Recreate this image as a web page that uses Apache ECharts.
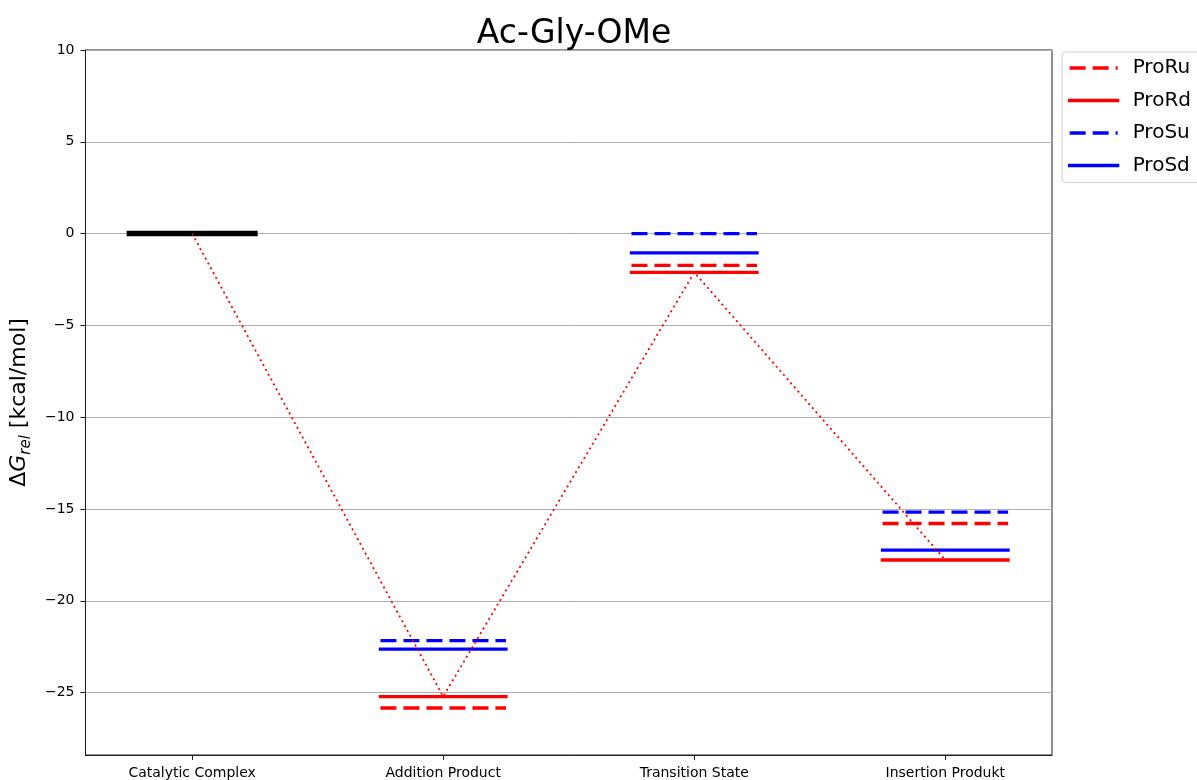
<!DOCTYPE html>
<html>
<head>
<meta charset="utf-8">
<title>Ac-Gly-OMe</title>
<script src="https://cdn.jsdelivr.net/npm/echarts@6.0.0/dist/echarts.min.js"></script>
<style>
  html, body { margin: 0; padding: 0; background: #fff; }
  #chart { width: 1197px; height: 780px; }
</style>
</head>
<body>
<div id="chart"></div>
<script>
// Reaction steps along the x axis
const categories = ['Catalytic Complex', 'Addition Product', 'Transition State', 'Insertion Produkt'];
// Relative free energies, kcal/mol
const catalytic = 0;
const proRu = [0, -25.84, -1.73, -15.79];
const proRd = [0, -25.22, -2.11, -17.78];
const proSu = [0, -22.17, 0.00, -15.17];
const proSd = [0, -22.63, -1.05, -17.24];
// Axis tick values
const yTicks = [-25, -20, -15, -10, -5, 0, 5, 10];
const xTicks = [0, 1, 2, 3];

const HALF = 0.25;          // half width of an energy level bar
const FONT = 'DejaVu Sans';

// Horizontal level segments for steps 1..n, broken between steps
function levelSegments(values) {
  const pts = [];
  for (let i = 1; i < values.length; i++) {
    if (pts.length) pts.push([i - 0.5, '-']);
    pts.push([i - HALF, values[i]], [i + HALF, values[i]]);
  }
  return pts;
}

function levelSeries(name, values, color, dashed) {
  return {
    name: name,
    type: 'line',
    data: levelSegments(values),
    symbol: 'none',
    connectNulls: false,
    silent: true,
    z: 3,
    lineStyle: {
      color: color,
      width: 3.3,
      type: dashed ? [16, 7] : 'solid',
      cap: dashed ? 'butt' : 'square'
    },
    itemStyle: { color: color },
    emphasis: { disabled: true }
  };
}

const chart = echarts.init(document.getElementById('chart'), null, { renderer: 'canvas' });

const minus = v => String(v).replace('-', '\u2212');

chart.setOption({
  animation: false,
  backgroundColor: '#fff',
  title: {
    text: 'Ac-Gly-OMe',
    left: 569,
    top: 13,
    textAlign: 'center',
    textStyle: { fontFamily: FONT, fontSize: 33, fontWeight: 'normal', color: '#000' }
  },
  grid: {
    left: 85, right: 145, top: 50, bottom: 24,
    show: true, borderColor: '#222', borderWidth: 1, containLabel: false
  },
  legend: {
    data: ['ProRu', 'ProRd', 'ProSu', 'ProSd'],
    orient: 'vertical',
    left: 1062,
    top: 52,
    itemWidth: 48,
    itemHeight: 14,
    itemGap: 10.5,
    padding: [5, 40, 6, 6],
    borderColor: '#d0d0d0',
    borderWidth: 1,
    borderRadius: 4,
    backgroundColor: '#fff',
    selectedMode: false,
    itemStyle: { opacity: 0 },
    lineStyle: { width: 3.3 },
    textStyle: { fontFamily: FONT, fontSize: 20, color: '#000', lineHeight: 22, padding: [0, 0, 0, 10] }
  },
  xAxis: {
    type: 'value',
    min: -0.425,
    max: 3.425,
    axisLine: { show: true, onZero: false, lineStyle: { color: '#222', width: 1 } },
    axisTick: { show: true, inside: false, length: 5, customValues: xTicks, lineStyle: { color: '#222' } },
    axisLabel: {
      customValues: xTicks,
      margin: 11,
      fontFamily: FONT,
      fontSize: 14,
      color: '#000',
      formatter: v => categories[Math.round(v)] || ''
    },
    splitLine: { show: false }
  },
  yAxis: {
    type: 'value',
    min: -28.4,
    max: 10,
    splitNumber: 8,
    name: '{d|\u0394}{g|G}{s|rel}{t| [kcal/mol]}',
    nameLocation: 'middle',
    nameRotate: 90,
    nameGap: 44,
    nameTextStyle: {
      rich: {
        d: { fontFamily: FONT, fontSize: 22, color: '#000', lineHeight: 30, verticalAlign: 'middle' },
        g: { fontFamily: FONT, fontSize: 22, fontStyle: 'italic', color: '#000', lineHeight: 30, verticalAlign: 'middle' },
        s: { fontFamily: FONT, fontSize: 15, fontStyle: 'italic', color: '#000', lineHeight: 30, verticalAlign: 'bottom' },
        t: { fontFamily: FONT, fontSize: 22, color: '#000', lineHeight: 30, verticalAlign: 'middle' }
      }
    },
    axisLine: { show: true, onZero: false, lineStyle: { color: '#222', width: 1 } },
    axisTick: { show: true, inside: false, length: 5, customValues: yTicks, lineStyle: { color: '#222' } },
    axisLabel: {
      customValues: yTicks,
      margin: 11,
      fontFamily: FONT,
      fontSize: 14,
      color: '#000',
      formatter: v => minus(v)
    },
    splitLine: { show: true, lineStyle: { color: '#b0b0b0', width: 1 } }
  },
  series: [
    {
      name: 'Catalytic',
      type: 'line',
      data: [[-HALF, catalytic], [HALF, catalytic]],
      symbol: 'none',
      silent: true,
      z: 3,
      lineStyle: { color: '#000', width: 5.5, cap: 'square' },
      itemStyle: { color: '#000' },
      emphasis: { disabled: true }
    },
    levelSeries('ProRu', proRu, '#ff0000', true),
    levelSeries('ProRd', proRd, '#ff0000', false),
    levelSeries('ProSu', proSu, '#0000ff', true),
    levelSeries('ProSd', proSd, '#0000ff', false),
    {
      name: 'ProRd path',
      type: 'line',
      data: proRd.map((v, i) => [i, v]),
      symbol: 'none',
      silent: true,
      z: 4,
      lineStyle: { color: '#ff0000', width: 1.8, type: [2, 3.5], cap: 'butt' },
      itemStyle: { color: '#ff0000' },
      emphasis: { disabled: true }
    }
  ]
});
</script>
</body>
</html>
